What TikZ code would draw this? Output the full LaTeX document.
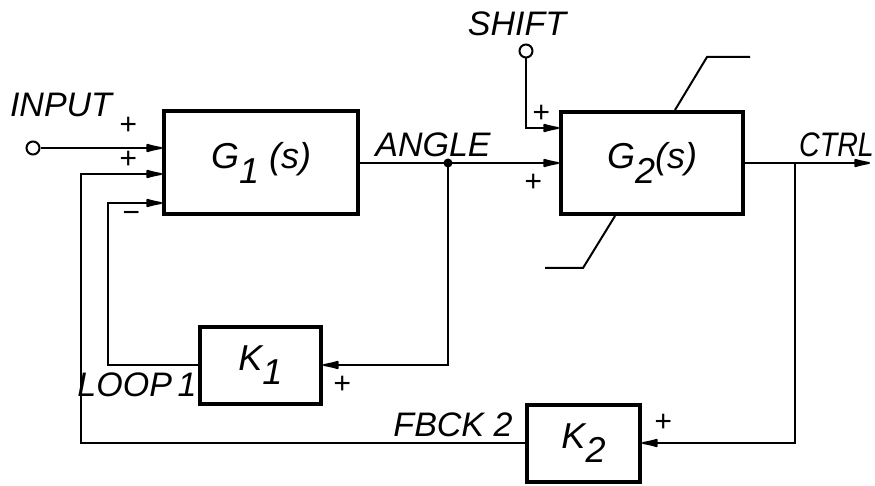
\documentclass[tikz,border=0pt]{standalone}
\usepackage{fontspec}
\setmainfont{Liberation Sans}
\usetikzlibrary{arrows.meta}
\newcommand\lowsub[1]{\raisebox{-0.4em}{#1}}
\tikzset{
  blk/.style 2 args={draw, line width=4pt, minimum width=#1, minimum height=#2, inner sep=0pt,
     font=\fontsize{36}{36}\selectfont\itshape},
  wire/.style={line width=2pt},
  arr/.style={wire, -{Latex[length=22pt,width=9pt,round]}},
  lbl/.style={inner sep=0pt, font=\fontsize{34}{34}\selectfont\itshape},
  sgn/.style={inner sep=0pt, text height=0.6em, text depth=0pt, font=\fontsize{30}{30}\selectfont\itshape},
  term/.style={circle, draw, line width=2pt, minimum size=13pt, inner sep=0pt},
  dot/.style={circle, fill, minimum size=9pt, inner sep=0pt},
}
\begin{document}
\begin{tikzpicture}[x=1pt,y=-1pt]
\useasboundingbox (0,0) rectangle (875,486);
% blocks
\node[blk={194pt}{103pt}] (G1) at (261,163) {G\lowsub{1}\;(s)};
\node[blk={182pt}{102pt}] (G2) at (652,163) {G\lowsub{2}(s)};
\node[blk={121pt}{77pt}] (K1) at (260.5,365) {K\lowsub{1}};
\node[blk={113pt}{77pt}] (K2) at (583.5,443) {K\lowsub{2}};
% terminals
\node[term] (IN) at (33,148) {};
\node[term] (SH) at (526,51) {};
\node[dot] (jA) at (448,163) {};
\coordinate (jC) at (795,163);
\coordinate (OUT) at (870,163);
\coordinate (in2) at (81,174);
\coordinate (in3) at (108,203);
\coordinate (sh1) at (526,128);
% labels
\node[lbl] (tIN) at (61,105) {INPUT};
\node[lbl] (tSH) at (517,24) {SHIFT};
\node[lbl] (tAN) at (433,145) {ANGLE};
\node[lbl,anchor=east] (tCT) at (874,145) {\scalebox{0.84}[1]{CTRL}};
\node[lbl] (tL1) at (137,385) {LOOP\,1};
\node[lbl] (tF2) at (453,425) {FBCK 2};
\node[sgn] (p1) at (128,132) {+};
\node[sgn] (p2) at (128,166) {+};
\node[sgn] (m3) at (131,220) {\textminus};
\node[sgn] (p4) at (541,120) {+};
\node[sgn] (p5) at (533,189) {+};
\node[sgn] (p6) at (342,390) {+};
\node[sgn] (p7) at (663,428) {+};
% connectors
\draw[arr] (IN.east) -- (IN.east -| G1.west);
\draw[arr] (K2.west) -| (in2) -- (in2 -| G1.west);
\draw[arr] (K1.west) -| (in3) -- (in3 -| G1.west);
\draw[wire] (G1.east) -- (jA.center);
\draw[arr] (jA.center) -- (jA -| G2.west);
\draw[arr] (jA.center) |- (K1.east);
\draw[arr] (SH.south) -- (sh1) -- (sh1 -| G2.west);
\draw[arr] (G2.east) -- (OUT);
\draw[arr] (jC) |- (K2.east);
% leader lines on G2
\coordinate (ta) at (675,0);
\coordinate (tb) at (707,57);
\coordinate (tc) at (750,57);
\coordinate (ba) at (615,0);
\coordinate (bb) at (583,268);
\coordinate (bc) at (545,268);
\draw[wire] (G2.north -| ta) -- (tb) -- (tc);
\draw[wire] (G2.south -| ba) -- (bb) -- (bc);
\end{tikzpicture}
\end{document}
